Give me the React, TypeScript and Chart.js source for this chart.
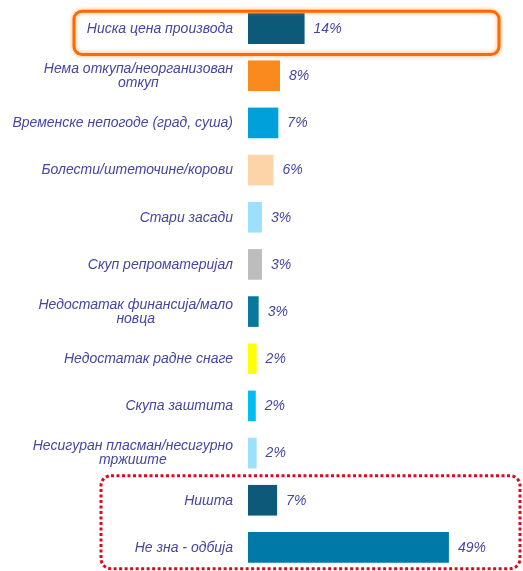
import React, { useEffect, useRef } from 'react';
import { Chart, registerables } from 'chart.js';

Chart.register(...registerables);

const categories: (string | string[])[] = [
  'Ниска цена производа',
  ['Нема откупа/неорганизован', 'откуп'],
  'Временске непогоде (град, суша)',
  'Болести/штеточине/корови',
  'Стари засади',
  'Скуп репроматеријал',
  ['Недостатак финансија/мало', 'новца'],
  'Недостатак радне снаге',
  'Скупа заштита',
  ['Несигуран пласман/несигурно', 'тржиште'],
  'Ништа',
  'Не зна - одбија',
];

const values = [13.8, 7.8, 7.4, 6.2, 3.4, 3.4, 2.6, 2.1, 1.9, 2.1, 7.1, 49];

const valueLabels = ['14%', '8%', '7%', '6%', '3%', '3%', '3%', '2%', '2%', '2%', '7%', '49%'];

const barColors = [
  '#0d5a78',
  '#fa8a1e',
  '#00a0da',
  '#fdd3a8',
  '#9ce0fb',
  '#bdbdbd',
  '#08789f',
  '#ffff00',
  '#00bdf2',
  '#9ce0fb',
  '#0d5a78',
  '#0079a8',
];

const FONT = 'italic 14px "Liberation Sans", Arial, sans-serif';
const VALUE_FONT = 'italic 14px "Liberation Sans", Arial, sans-serif';
const TEXT_COLOR = '#4545a0';

const labelPlugin = {
  id: 'customLabels',
  afterDatasetsDraw(chart: any) {
    const { ctx, chartArea, scales } = chart;
    const yScale = scales.y;
    const xScale = scales.x;
    ctx.save();
    ctx.fillStyle = TEXT_COLOR;
    ctx.textBaseline = 'middle';
    const lineH = 14;
    const rightEdge = chartArea.left - 15;
    categories.forEach((c, i) => {
      const y = yScale.getPixelForValue(i) + 0.5;
      const lines = Array.isArray(c) ? c : [c];
      ctx.font = FONT;
      const w = Math.max(...lines.map((l) => ctx.measureText(l).width));
      const cx = rightEdge - w / 2;
      ctx.textAlign = 'center';
      lines.forEach((l, j) => {
        ctx.fillText(l, cx, y + (j - (lines.length - 1) / 2) * lineH);
      });
      ctx.font = VALUE_FONT;
      ctx.textAlign = 'left';
      ctx.fillText(valueLabels[i], xScale.getPixelForValue(values[i]) + 9, y);
    });

    // orange highlight box around first row
    const step = yScale.getPixelForValue(1) - yScale.getPixelForValue(0);
    const y0 = yScale.getPixelForValue(0);
    const bx1 = chartArea.left - 174;
    const bx2 = chartArea.left + 251;
    ctx.save();
    ctx.shadowColor = 'rgba(255,110,0,0.6)';
    ctx.shadowBlur = 4;
    ctx.strokeStyle = '#ff6a00';
    ctx.lineWidth = 3;
    ctx.beginPath();
    ctx.roundRect(bx1, y0 - step * 0.37, bx2 - bx1, step * 0.92, 8);
    ctx.stroke();
    ctx.restore();

    // red dotted box around last two rows
    const y10 = yScale.getPixelForValue(10);
    const y11 = yScale.getPixelForValue(11);
    const rx1 = chartArea.left - 147;
    const rx2 = chartArea.left + 272;
    const rTop = y10 - step * 0.52;
    const rBot = y11 + step * 0.45;
    ctx.strokeStyle = '#dc0a1e';
    ctx.lineWidth = 3;
    ctx.setLineDash([3, 2.5]);
    ctx.beginPath();
    ctx.roundRect(rx1, rTop, rx2 - rx1, rBot - rTop, 10);
    ctx.stroke();
    ctx.restore();
  },
};

export default function App() {
  const canvasRef = useRef<HTMLCanvasElement | null>(null);

  useEffect(() => {
    if (!canvasRef.current) return;
    const chart = new Chart(canvasRef.current, {
      type: 'bar',
      data: {
        labels: categories.map((c) => (Array.isArray(c) ? c.join(' ') : c)),
        datasets: [
          {
            data: values,
            backgroundColor: barColors,
            borderWidth: 0,
            barPercentage: 0.65,
            categoryPercentage: 1,
          },
        ],
      },
      options: {
        indexAxis: 'y',
        animation: false,
        responsive: true,
        maintainAspectRatio: false,
        layout: { padding: { left: 248, right: 29, top: 5, bottom: 0 } },
        scales: {
          x: { display: false, min: 0, max: 60 },
          y: { display: false },
        },
        plugins: {
          legend: { display: false },
          tooltip: { enabled: false },
        },
      },
      plugins: [labelPlugin],
    });
    return () => chart.destroy();
  }, []);

  return (
    <div style={{ position: 'absolute', left: 0, top: 0, width: 523, height: 571, background: '#fff' }}>
      <canvas ref={canvasRef} />
    </div>
  );
}
